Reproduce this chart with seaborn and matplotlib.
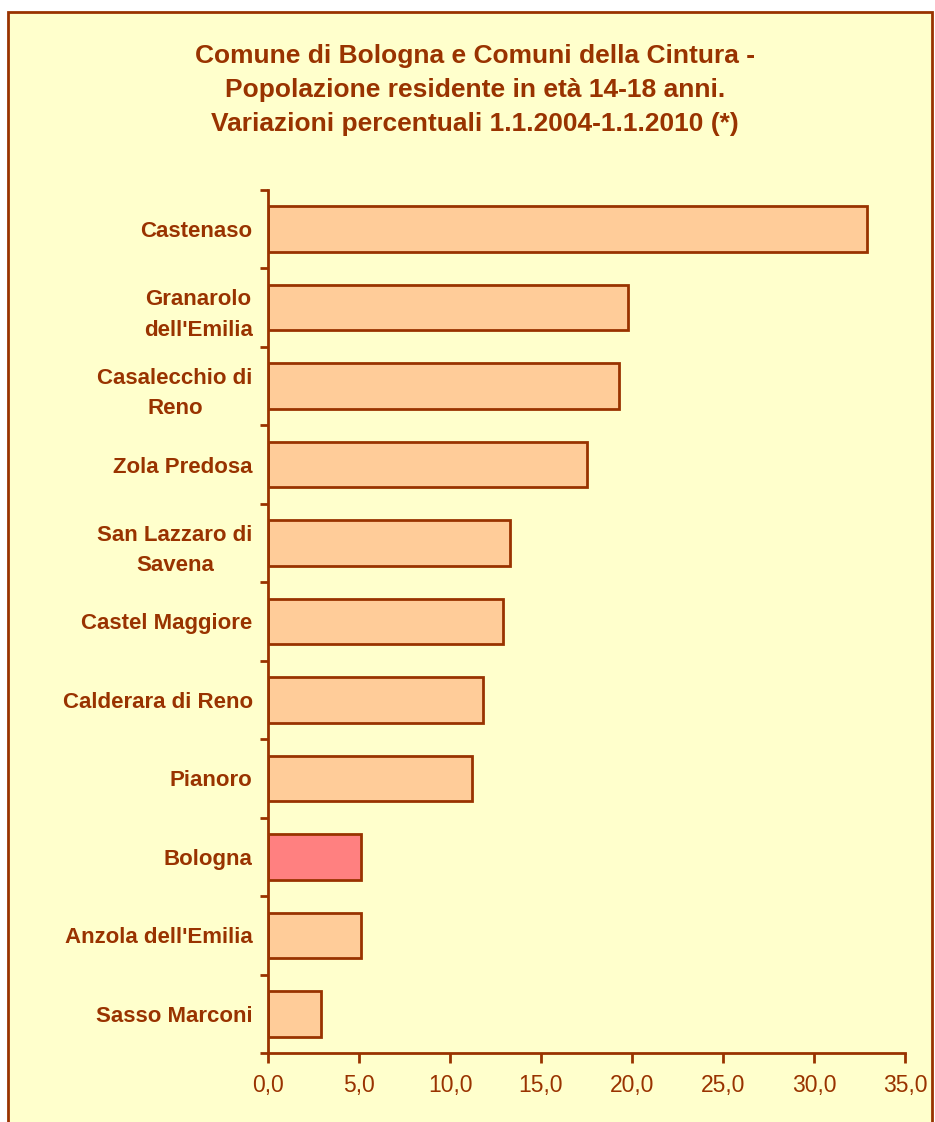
import matplotlib
matplotlib.use("Agg")
import matplotlib.pyplot as plt
import seaborn as sns
from matplotlib.patches import Rectangle
from matplotlib.ticker import FixedLocator, FuncFormatter

categories = ["Castenaso", "Granarolo\ndell'Emilia", "Casalecchio di\nReno", "Zola Predosa",
              "San Lazzaro di\nSavena", "Castel Maggiore", "Calderara di Reno", "Pianoro",
              "Bologna", "Anzola dell'Emilia", "Sasso Marconi"]
values = [32.9, 19.8, 19.3, 17.5, 13.3, 12.9, 11.8, 11.2, 5.1, 5.1, 2.9]
x_ticks = [0, 5, 10, 15, 20, 25, 30, 35]

BG = "#FFFFCC"
DARK = "#993300"
BAR = "#FFCC99"
HIGHLIGHT = "#FF8080"
colors = [HIGHLIGHT if c == "Bologna" else BAR for c in categories]

sns.set_style("white")
plt.rcParams["font.family"] = ["Liberation Sans", "DejaVu Sans"]

fig = plt.figure(figsize=(9.35, 11.22), dpi=100)
fig.patch.set_facecolor("white")
frame = Rectangle((8 / 935, -0.02), (932 - 8) / 935, 1 - 12 / 1122 + 0.02,
                  transform=fig.transFigure, facecolor=BG, edgecolor=DARK,
                  linewidth=2, zorder=-10)
fig.patches.append(frame)

ax = fig.add_axes([268 / 935, 1 - 1053 / 1122, (905 - 268) / 935, (1053 - 190) / 1122])
ax.patch.set_alpha(0)

sns.barplot(x=values, y=categories, hue=categories, palette=colors, legend=False,
            orient="h", width=0.58, edgecolor=DARK, linewidth=2, saturation=1, ax=ax)

ax.set_xlim(0, 35)
ax.set_ylim(len(categories) - 0.5, -0.5)
ax.xaxis.set_major_locator(FixedLocator(x_ticks))
ax.xaxis.set_major_formatter(FuncFormatter(lambda v, p: f"{v:.1f}".replace(".", ",")))

for s in ["top", "right"]:
    ax.spines[s].set_visible(False)
for s in ["left", "bottom"]:
    ax.spines[s].set_color(DARK)
    ax.spines[s].set_linewidth(2)

ax.tick_params(axis="x", direction="out", length=7, width=2, color=DARK, labelcolor=DARK,
               labelsize=16.5, pad=8, bottom=True)
ax.tick_params(axis="y", which="major", length=0, labelcolor=DARK, labelsize=16, pad=11)
ax.yaxis.set_minor_locator(FixedLocator([i - 0.5 for i in range(len(categories) + 1)]))
ax.tick_params(axis="y", which="minor", direction="out", length=6, width=2, color=DARK, left=True)
for lbl in ax.get_yticklabels():
    lbl.set_fontweight("bold")
    lbl.set_multialignment("center")
    lbl.set_linespacing(1.6)
ax.set_xlabel("")
ax.set_ylabel("")
ax.grid(False)

fig.text(475 / 935, 1 - 90 / 1122,
         "Comune di Bologna e Comuni della Cintura -\nPopolazione residente in età 14-18 anni.\nVariazioni percentuali 1.1.2004-1.1.2010 (*)",
         ha="center", va="center", color=DARK, fontsize=19, fontweight="bold",
         linespacing=1.5)

fig.savefig("out.png", dpi=100, facecolor=fig.get_facecolor())
